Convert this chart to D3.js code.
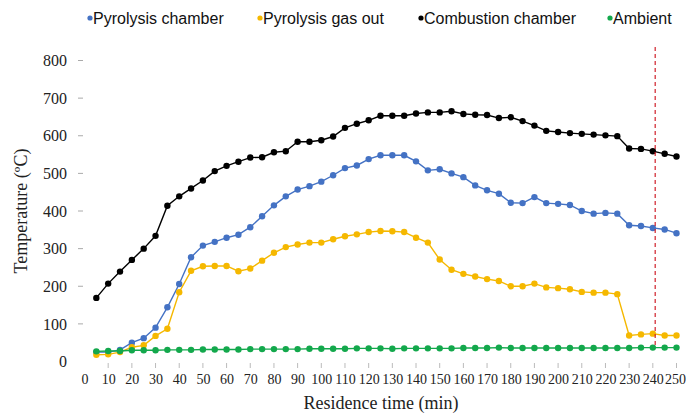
<!DOCTYPE html>
<html>
<head>
<meta charset="utf-8">
<script src="https://cdn.jsdelivr.net/npm/d3@7"></script>
<style>
  html, body { margin: 0; padding: 0; background: #fff; }
  svg { display: block; }
</style>
</head>
<body>
<svg id="chart" width="686" height="416"></svg>
<script>
const time = [5,10,15,20,25,30,35,40,45,50,55,60,65,70,75,80,85,90,95,100,105,110,115,120,125,130,135,140,145,150,155,160,165,170,175,180,185,190,195,200,205,210,215,220,225,230,235,240,245,250];
const pyrolysisChamber = [25,25,31,50,62,90,144,206,277,308,318,329,337,357,386,415,439,457,466,478,495,514,521,538,548,548,548,532,508,511,500,490,468,455,446,422,421,437,421,419,416,400,393,395,393,362,360,355,351,341];
const pyrolysisGasOut = [18,19,25,38,43,68,87,184,241,253,254,254,240,247,268,289,304,311,316,316,325,333,338,344,347,346,344,329,316,271,244,233,226,219,214,200,200,207,197,195,192,185,183,183,179,69,72,74,69,69];
const combustionChamber = [169,207,239,270,300,334,414,439,460,481,506,520,531,542,543,556,559,584,584,588,598,621,632,641,653,653,653,659,662,662,665,658,656,655,647,649,639,627,613,610,607,605,603,601,599,566,565,559,552,545];
const ambient = [27,28,28,30,30,30,31,31,31,32,32,32,32,33,33,33,33,33,34,34,34,34,35,35,35,34,35,35,35,35,35,36,36,36,37,36,36,36,36,36,36,36,36,36,36,36,37,37,37,37];
const seriesNames = ["Pyrolysis chamber", "Pyrolysis gas out", "Combustion chamber", "Ambient"];
const seriesColors = ["#4472C4", "#F5B800", "#000000", "#13A84C"];
const xTicks = [0,10,20,30,40,50,60,70,80,90,100,110,120,130,140,150,160,170,180,190,200,210,220,230,240,250];
const yTicks = [0,100,200,300,400,500,600,700,800];
const markerTime = 241;

const svg = d3.select("#chart");
const x = d3.scaleLinear().domain([0, 250]).range([84.5, 676.5]);
const y = d3.scaleLinear().domain([0, 800]).range([361.5, 60.5]);

// Y axis (no domain line)
const yAxis = svg.append("g").attr("transform", "translate(85,0)")
  .call(d3.axisLeft(y).tickValues(yTicks).tickSize(0).tickPadding(18));
yAxis.select(".domain").remove();
yAxis.selectAll("text").attr("font-family", "Liberation Serif, Times New Roman, serif")
  .attr("font-size", 16).attr("fill", "#222");
svg.append("g").selectAll("line").data(yTicks.slice(1)).join("line")
  .attr("x1", 78).attr("x2", 83).attr("y1", d => y(d)).attr("y2", d => y(d))
  .attr("stroke", "#aaa").attr("stroke-width", 1);

// X axis
const xAxis = svg.append("g").attr("transform", "translate(0,362)")
  .call(d3.axisBottom(x).tickValues(xTicks).tickSize(0).tickPadding(12));
xAxis.select(".domain").remove();
xAxis.selectAll("text").attr("font-family", "Liberation Serif, Times New Roman, serif")
  .attr("font-size", 14).attr("fill", "#222");
xAxis.selectAll(".tick").filter(d => d === 250).select("text").attr("dx", -1.5);
svg.append("g").selectAll("line").data(xTicks.slice(1)).join("line")
  .attr("x1", d => x(d)).attr("x2", d => x(d)).attr("y1", 363).attr("y2", 368)
  .attr("stroke", "#bbb").attr("stroke-width", 1);

// axis titles
svg.append("text").attr("x", 381).attr("y", 409).attr("text-anchor", "middle")
  .attr("font-family", "Liberation Serif, Times New Roman, serif").attr("font-size", 18)
  .attr("fill", "#222").text("Residence time (min)");
svg.append("text").attr("transform", "translate(27,211) rotate(-90)").attr("text-anchor", "middle")
  .attr("font-family", "Liberation Serif, Times New Roman, serif").attr("font-size", 18)
  .attr("fill", "#222").text("Temperature (ºC)");

// series
const allSeries = [pyrolysisChamber, pyrolysisGasOut, combustionChamber, ambient];
const line = d3.line().x((d, i) => x(time[i])).y(d => y(d));
allSeries.forEach((vals, si) => {
  const g = svg.append("g");
  g.append("path").datum(vals).attr("d", line).attr("fill", "none")
    .attr("stroke", seriesColors[si]).attr("stroke-width", 1.4);
  g.selectAll("circle").data(vals).join("circle")
    .attr("cx", (d, i) => x(time[i])).attr("cy", d => y(d)).attr("r", 3.2)
    .attr("fill", seriesColors[si]);
});

// red dashed vertical marker
svg.append("line").attr("x1", x(markerTime)).attr("x2", x(markerTime))
  .attr("y1", 47).attr("y2", 346).attr("stroke", "#D0202A").attr("stroke-width", 1.2)
  .attr("stroke-dasharray", "4,3");

// legend
const legendX = [90, 260, 421, 610];
const lg = svg.append("g");
seriesNames.forEach((name, i) => {
  lg.append("circle").attr("cx", legendX[i]).attr("cy", 18).attr("r", 2.6).attr("fill", seriesColors[i]);
  lg.append("text").attr("x", legendX[i] + 3).attr("y", 23.5)
    .attr("font-family", "Liberation Sans, Arial, sans-serif").attr("font-size", 16)
    .attr("fill", "#111").text(name);
});
</script>
</body>
</html>
